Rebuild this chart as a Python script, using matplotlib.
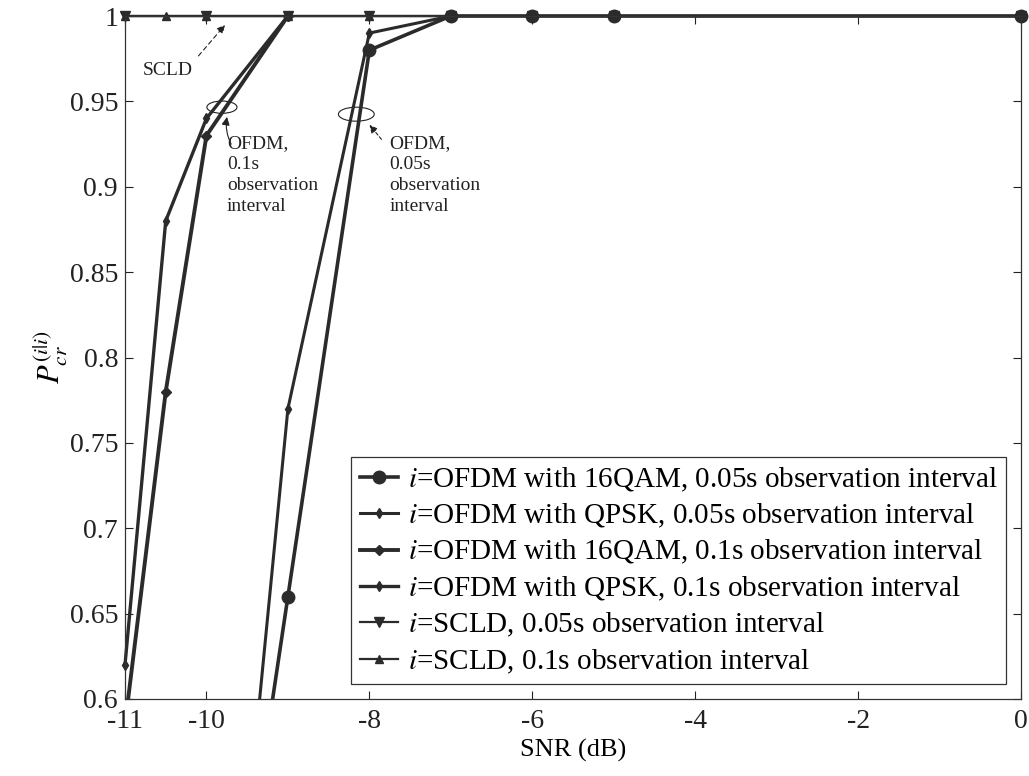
import matplotlib
matplotlib.use("Agg")
import matplotlib.pyplot as plt
from matplotlib.patches import Ellipse, Rectangle
import numpy as np

plt.rcParams['font.family'] = ['Liberation Serif', 'DejaVu Serif']
plt.rcParams['mathtext.fontset'] = 'stix'

# ---- data ----
snr_16qam_005 = [-10, -9, -8, -7, -6, -5, 0]
pcr_16qam_005 = [0.34, 0.66, 0.98, 1.0, 1.0, 1.0, 1.0]

snr_qpsk_005 = [-10, -9, -8, -7]
pcr_qpsk_005 = [0.28, 0.77, 0.99, 1.0]

snr_16qam_01 = [-11, -10.5, -10, -9]
pcr_16qam_01 = [0.585, 0.78, 0.93, 1.0]

snr_qpsk_01 = [-11, -10.5, -10, -9]
pcr_qpsk_01 = [0.62, 0.88, 0.94, 1.0]

snr_scld_005 = [-11, -10, -9, -8, -7, -6, -5, 0]
pcr_scld_005 = [1.0, 1.0, 1.0, 1.0, 1.0, 1.0, 1.0, 1.0]

snr_scld_01 = [-11, -10.5, -10, -9, -8, -7, -6, -5, 0]
pcr_scld_01 = [1.0, 1.0, 1.0, 1.0, 1.0, 1.0, 1.0, 1.0, 1.0]

labels = [
    r"$i$=OFDM with 16QAM, 0.05s observation interval",
    r"$i$=OFDM with QPSK, 0.05s observation interval",
    r"$i$=OFDM with 16QAM, 0.1s observation interval",
    r"$i$=OFDM with QPSK, 0.1s observation interval",
    r"$i$=SCLD, 0.05s observation interval",
    r"$i$=SCLD, 0.1s observation interval",
]
xticks = [-11, -10, -8, -6, -4, -2, 0]
xticklabels = ["-11", "-10", "-8", "-6", "-4", "-2", "0"]
yticks = [0.6, 0.65, 0.7, 0.75, 0.8, 0.85, 0.9, 0.95, 1.0]
yticklabels = ["0.6", "0.65", "0.7", "0.75", "0.8", "0.85", "0.9", "0.95", "1"]

col = '#2b2b2b'

fig = plt.figure(figsize=(10.29, 7.76), dpi=100)
ax = fig.add_axes([125/1029, 1-699/776, (1021-125)/1029, (699-16)/776])

clip = Rectangle((-0.05, 0.0), 1.1, 1.1, transform=ax.transAxes, facecolor='none', edgecolor='none')

series = [
    (snr_16qam_005, pcr_16qam_005, 'o', 9, 2.6),
    (snr_qpsk_005, pcr_qpsk_005, 'd', 5, 2.2),
    (snr_16qam_01, pcr_16qam_01, 'D', 5, 2.8),
    (snr_qpsk_01, pcr_qpsk_01, 'd', 5, 2.4),
    (snr_scld_005, pcr_scld_005, 'v', 7, 1.6),
    (snr_scld_01, pcr_scld_01, '^', 6, 1.6),
]
handles = []
for (x, y, m, ms, lw), lab in zip(series[::-1], labels[::-1]):
    ln, = ax.plot(x, y, marker=m, ms=ms, lw=lw, color=col, mfc=col, mec=col, label=lab)
    ln.set_clip_path(clip)
    handles.append(ln)
handles = handles[::-1]

ax.set_xlim(-11, 0)
ax.set_ylim(0.6, 1.0)
ax.set_xticks(xticks)
ax.set_xticklabels(xticklabels)
ax.set_yticks(yticks)
ax.set_yticklabels(yticklabels)
ax.tick_params(direction='in', length=6, width=0.8, labelsize=20, top=True, right=True, colors='#222222')
ax.tick_params(axis='x', pad=7)
ax.tick_params(axis='y', pad=5)
for s in ax.spines.values():
    s.set_linewidth(0.9)
    s.set_color('#333333')

ax.set_xlabel("SNR (dB)", fontsize=19, labelpad=4)
ax.set_ylabel(r"$P_{cr}^{(i|i)}$", fontsize=22, labelpad=0)

leg = ax.legend(handles, labels, loc='lower right', fontsize=21, frameon=True, fancybox=False,
                edgecolor='#333333', framealpha=1, handlelength=1.3, handletextpad=0.35,
                labelspacing=0.28, borderpad=0.3, borderaxespad=0.5)
leg.get_frame().set_linewidth(0.9)

# annotations
ax.text(-10.78, 0.968, "SCLD", fontsize=14, ha='left', va='center', color='#222222')
ax.annotate("", xy=(-9.75, 0.996), xytext=(-10.12, 0.9754),
            arrowprops=dict(arrowstyle='-|>', linestyle=(0, (4, 3)), lw=0.8, color='#222222',
                            mutation_scale=12))

ax.add_patch(Ellipse((-9.81, 0.9466), 0.37, 0.0072, fill=False, lw=0.8, ec='#222222'))
ax.annotate("", xy=(-9.74, 0.9425), xytext=(-9.68, 0.9235),
            arrowprops=dict(arrowstyle='-|>', lw=0.8, color='#222222', mutation_scale=12,
                            connectionstyle='arc3,rad=-0.2'))
ax.text(-9.75, 0.930, "OFDM,\n0.1s\nobservation\ninterval", fontsize=14, ha='left', va='top',
        linespacing=1.3, color='#222222')

ax.add_patch(Ellipse((-8.16, 0.9425), 0.44, 0.0082, fill=False, lw=0.8, ec='#222222'))
ax.annotate("", xy=(-8.02, 0.9375), xytext=(-7.83, 0.9265),
            arrowprops=dict(arrowstyle='-|>', linestyle=(0, (3, 2)), lw=0.8, color='#222222',
                            mutation_scale=12))
ax.text(-7.75, 0.930, "OFDM,\n0.05s\nobservation\ninterval", fontsize=14, ha='left', va='top',
        linespacing=1.3, color='#222222')

fig.savefig("out.png", dpi=100)
